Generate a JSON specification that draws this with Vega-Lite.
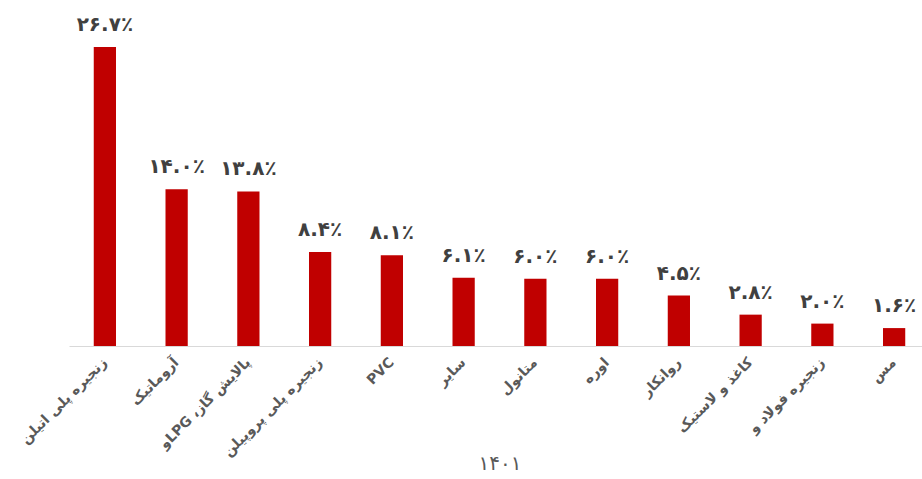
{
  "$schema": "https://vega.github.io/schema/vega-lite/v6.json",
  "autosize": "none",
  "width": 861,
  "height": 336,
  "padding": {"left": 69, "top": 10, "right": 0, "bottom": 133},
  "config": {"view": {"stroke": null}, "font": "DejaVu Sans"},
  "data": {
    "values": [
      {"cat": "زنجیره پلی اتیلن", "v": 26.7, "lab": "۲۶.۷٪"},
      {"cat": "آروماتیک", "v": 14.0, "lab": "۱۴.۰٪"},
      {"cat": "\u202bپالایش گاز، LPGو\u202c", "v": 13.8, "lab": "۱۳.۸٪"},
      {"cat": "زنجیره پلی پروپیلن", "v": 8.4, "lab": "۸.۴٪"},
      {"cat": "PVC", "v": 8.1, "lab": "۸.۱٪"},
      {"cat": "سایر", "v": 6.1, "lab": "۶.۱٪"},
      {"cat": "متانول", "v": 6.0, "lab": "۶.۰٪"},
      {"cat": "اوره", "v": 6.0, "lab": "۶.۰٪"},
      {"cat": "روانکار", "v": 4.5, "lab": "۴.۵٪"},
      {"cat": "کاغذ و لاستیک", "v": 2.8, "lab": "۲.۸٪"},
      {"cat": "زنجیره فولاد و", "v": 2.0, "lab": "۲.۰٪"},
      {"cat": "مس", "v": 1.6, "lab": "۱.۶٪"}
    ]
  },
  "encoding": {
    "x": {
      "field": "cat", "type": "nominal", "sort": null,
      "scale": {"paddingInner": 0.69, "paddingOuter": 0.345},
      "axis": {
        "title": "۱۴۰۱", "titleFontSize": 20, "titleFontWeight": "normal", "titleColor": "#595959",
        "titleY": 107, "titleBaseline": "top",
        "labelAngle": -45, "labelFontSize": 14, "labelFontWeight": "bold", "labelColor": "#595959",
        "labelAlign": "right", "labelBaseline": "middle", "labelPadding": 14,
        "ticks": false, "domainColor": "#d9d9d9", "domainWidth": 1, "labelLimit": 300
      }
    },
    "y": {
      "field": "v", "type": "quantitative",
      "scale": {"domain": [0, 30]},
      "axis": null
    }
  },
  "layer": [
    {"mark": {"type": "bar", "color": "#c00000"}},
    {
      "mark": {"type": "text", "baseline": "bottom", "dy": -12, "fontSize": 20, "fontWeight": "bold", "color": "#404040"},
      "encoding": {"text": {"field": "lab"}}
    }
  ]
}
